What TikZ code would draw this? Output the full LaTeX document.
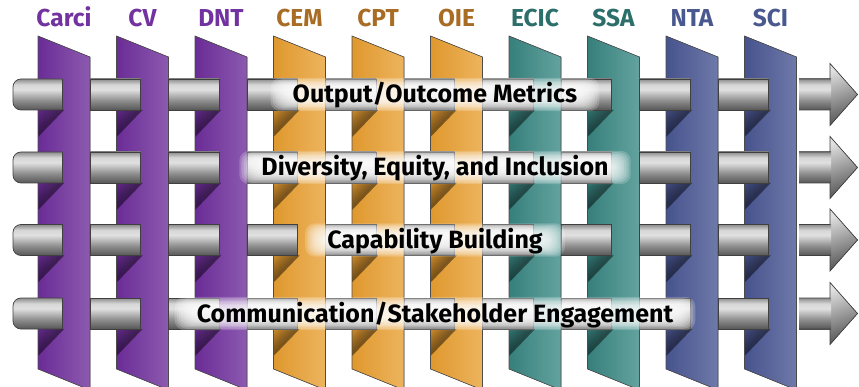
\documentclass[tikz,border=0pt]{standalone}
\usepackage{fontspec}
\setmainfont{Fira Sans}

\definecolor{purpleL}{HTML}{6A2C96}
\definecolor{purpleR}{HTML}{8C5AAF}
\definecolor{purpleT}{HTML}{7232A0}
\definecolor{orangeL}{HTML}{DF982E}
\definecolor{orangeR}{HTML}{EDB45E}
\definecolor{orangeT}{HTML}{A86C24}
\definecolor{tealL}{HTML}{367F7B}
\definecolor{tealR}{HTML}{64A39F}
\definecolor{tealT}{HTML}{2C6E6A}
\definecolor{slateL}{HTML}{47538D}
\definecolor{slateR}{HTML}{6E7AA9}
\definecolor{slateT}{HTML}{4A5890}

\pgfdeclareverticalshading{tubeshade}{100bp}{color(0bp)=(black!66); color(25bp)=(black!66);
  color(40bp)=(black!45); color(58bp)=(black!12); color(66bp)=(black!16);
  color(75bp)=(black!45); color(100bp)=(black!45)}

\pgfdeclarelayer{glowlayer}
\pgfdeclarelayer{textlayer}
\pgfsetlayers{main,glowlayer,textlayer}

\tikzset{
  tube/.style={shading=tubeshade, draw=black!75, line width=0.7pt},
  slab/.style={draw=black!70, line width=0.6pt},
  head/.style={top color=black!12, bottom color=black!68, shading angle=20},
  toplabel/.style={font=\bfseries\fontsize{24.5}{24.5}\selectfont, anchor=base},
  rowlabel/.style={font=\bfseries\fontsize{25}{25}\selectfont, inner xsep=0pt, inner ysep=0pt,
    text height=24pt, text depth=7pt},
}

% one slanted slab, with the shadows of the tubes on it
\newcommand{\drawslab}[3]{%
  \fill[left color=#2, right color=#3] (#1,36) -- (#1+52,57) -- (#1+52,390) -- (#1,369) -- cycle;
  \foreach \s in {110,183,255.5,329}
    \foreach \f in {0,0.12,...,0.85}
      \fill[black, fill opacity=.07]
        (#1+26*\f,\s) -- (#1+26,\s) -- (#1,\s+27) -- (#1,\s+27*\f) -- cycle;
  \draw[slab] (#1,36) -- (#1+52,57) -- (#1+52,390) -- (#1,369) -- cycle;
}

\begin{document}
\begin{tikzpicture}[x=1pt,y=-1pt]
  \useasboundingbox (0,0) rectangle (859,387);

  \foreach \i/\cl/\cr in {0/purpleL/purpleR,1/purpleL/purpleR,2/purpleL/purpleR,
      3/orangeL/orangeR,4/orangeL/orangeR,5/orangeL/orangeR,
      6/tealL/tealR,7/tealL/tealR,8/slateL/slateR,9/slateL/slateR}
    \drawslab{38+78.5*\i}{\cl}{\cr};

  \foreach \y in {94.5,167.5,240,313.5} {
    % left end
    \begin{scope}
      \clip (0,\y-20) rectangle (62,\y+20);
      \draw[tube, rounded corners=8pt] (13,\y-15.5) rectangle (95,\y+15.5);
    \end{scope}
    \draw[black!75, line width=0.7pt] (62,\y-15.5) -- (62,\y+15.5);
    % pieces between the slabs
    \foreach \k in {1,...,9}
      \draw[tube] (38+78.5*\k-26.5,\y-15.5) rectangle (38+78.5*\k+24,\y+15.5);
    % arrow at the right end
    \fill[head] (830,\y-31) -- (857.5,\y) -- (830,\y+31) -- cycle;
    \shade[shading=tubeshade] (799,\y-15.5) rectangle (831,\y+15.5);
    \draw[black!75, line width=0.7pt, line join=miter] (799,\y-15.5) -- (830,\y-15.5) -- (830,\y-31)
      -- (857.5,\y) -- (830,\y+31) -- (830,\y+15.5) -- (799,\y+15.5);
  }

  \begin{pgfonlayer}{textlayer}
    \node[rowlabel] (metrics)    at (435,94.5)  {Output/Outcome Metrics};
    \node[rowlabel] (dei)        at (435,167.5) {Diversity, Equity, and Inclusion};
    \node[rowlabel] (capability) at (435,240)   {Capability Building};
    \node[rowlabel] (engagement) at (435,313.5) {Communication/Stakeholder Engagement};
  \end{pgfonlayer}
  \begin{pgfonlayer}{glowlayer}
    \foreach \n in {metrics,dei,capability,engagement}
      \foreach \g in {0,...,8}
        \fill[white, fill opacity=.2, rounded corners=10pt]
          ([shift={(-22+2.2*\g,-1+1.4*\g)}]\n.north west) rectangle ([shift={(22-2.2*\g,1-1.4*\g)}]\n.south east);
  \end{pgfonlayer}

  \node[toplabel, text=purpleT] (carci) at (64,27)    {Carci};
  \node[toplabel, text=purpleT] (cv)    at (142.5,27) {CV};
  \node[toplabel, text=purpleT] (dnt)   at (221,27)   {DNT};
  \node[toplabel, text=orangeT] (cem)   at (299.5,27) {CEM};
  \node[toplabel, text=orangeT] (cpt)   at (378,27)   {CPT};
  \node[toplabel, text=orangeT] (oie)   at (456.5,27) {OIE};
  \node[toplabel, text=tealT]   (ecic)  at (535,27)   {ECIC};
  \node[toplabel, text=tealT]   (ssa)   at (613.5,27) {SSA};
  \node[toplabel, text=slateT]  (nta)   at (692,27)   {NTA};
  \node[toplabel, text=slateT]  (sci)   at (770.5,27) {SCI};
\end{tikzpicture}
\end{document}
